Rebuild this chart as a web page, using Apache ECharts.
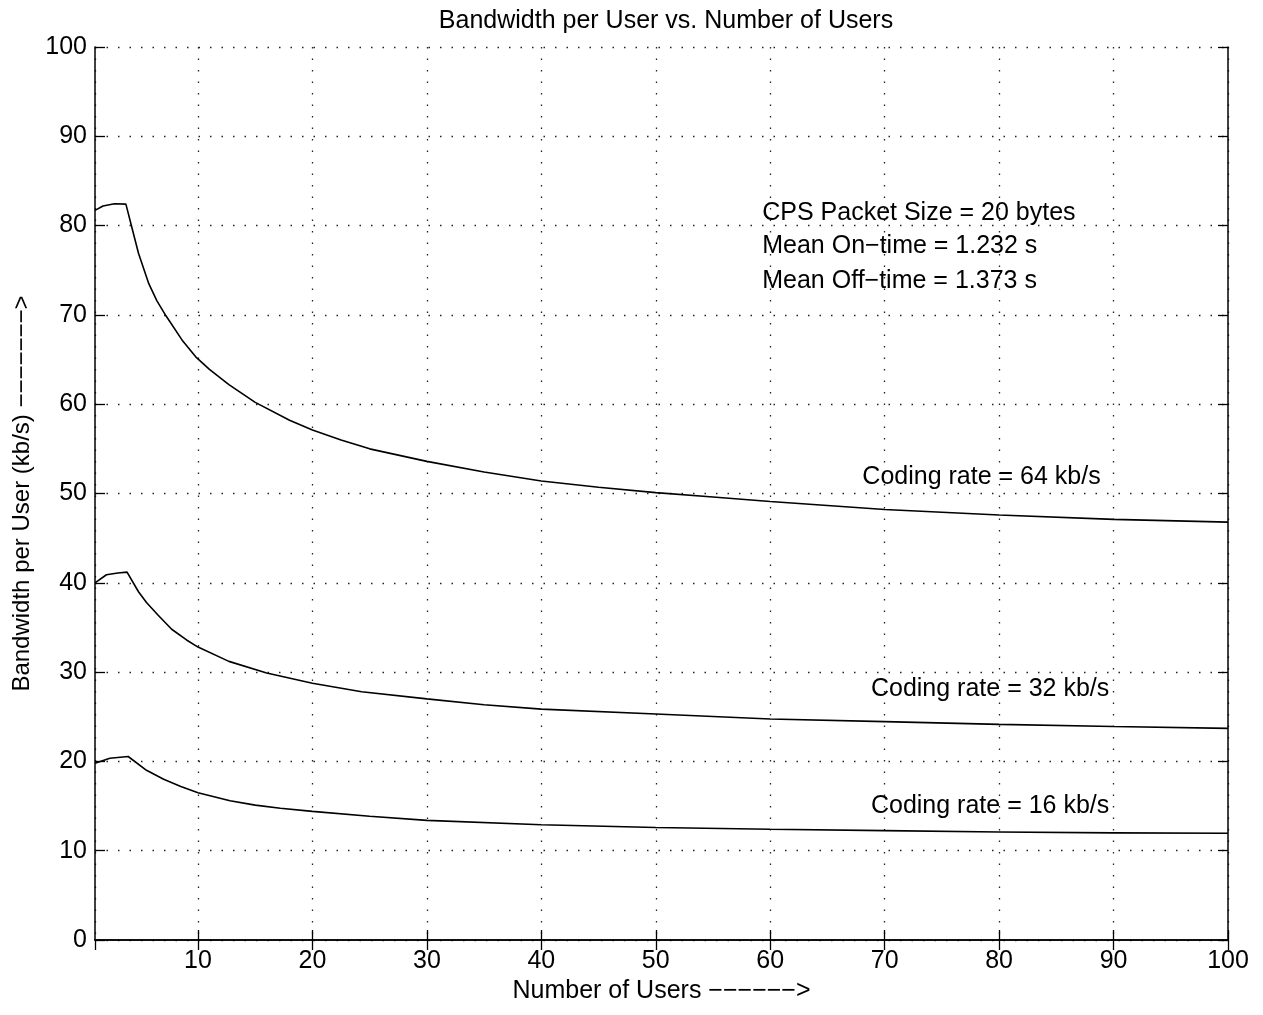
<!DOCTYPE html>
<html>
<head>
<meta charset="utf-8">
<script src="https://cdn.jsdelivr.net/npm/echarts@6/dist/echarts.min.js"></script>
<style>
html,body{margin:0;padding:0;background:#fff;}
#chart{width:1263px;height:1015px;}
</style>
</head>
<body>
<div id="chart"></div>
<script>
// ---- data ----
const users64 = [1, 1.7, 2.7, 3.7, 4.2, 4.8, 5.7, 6.4, 7.2, 8.6, 9.8, 11, 12.7, 15, 18, 20, 22.5, 25, 30, 35, 40, 45, 50, 55, 60, 70, 80, 90, 100];
const bw64    = [81.7, 82.2, 82.45, 82.4, 79.9, 76.9, 73.5, 71.6, 69.9, 67.2, 65.3, 63.9, 62.2, 60.2, 58.2, 57.1, 56.0, 55.0, 53.6, 52.4, 51.4, 50.7, 50.1, 49.6, 49.1, 48.2, 47.6, 47.1, 46.8];

const users32 = [1, 2, 3, 3.8, 4.8, 5.5, 6.5, 7.7, 9, 10, 12.7, 16, 20, 24.3, 30, 35, 40, 50, 60, 70, 80, 90, 100];
const bw32    = [40.0, 40.9, 41.1, 41.2, 39.0, 37.8, 36.4, 34.8, 33.6, 32.8, 31.2, 29.9, 28.75, 27.8, 27.0, 26.35, 25.85, 25.3, 24.75, 24.45, 24.15, 23.9, 23.7];

const users16 = [1, 2.3, 3.9, 5.5, 7, 8.5, 10, 12.8, 15, 17.2, 20, 25, 30, 40, 50, 60, 70, 80, 90, 100];
const bw16    = [19.8, 20.35, 20.55, 19.0, 18.0, 17.2, 16.5, 15.6, 15.1, 14.75, 14.4, 13.85, 13.4, 12.9, 12.6, 12.4, 12.25, 12.1, 12.0, 11.95];

const noteTexts = ['CPS Packet Size = 20 bytes', 'Mean On\u2212time = 1.232 s', 'Mean Off\u2212time = 1.373 s',
                   'Coding rate = 64 kb/s', 'Coding rate = 32 kb/s', 'Coding rate = 16 kb/s'];
const noteX = [59.3, 59.3, 59.3, 68.05, 68.8, 68.8];
const noteY = [81.4, 77.7, 73.8, 51.85, 28.1, 15.0];

const titleText = 'Bandwidth per User vs. Number of Users';
const xName = 'Number of Users \u2212\u2212\u2212\u2212\u2212\u2212>';
const yName = 'Bandwidth per User (kb/s) \u2212\u2212\u2212\u2212\u2212\u2212\u2212>';

// ---- chart ----
const FONT = '"Liberation Sans", Arial, Helvetica, sans-serif';
const zip = (xs, ys) => xs.map((x, i) => [x, ys[i]]);
const chart = echarts.init(document.getElementById('chart'), null, {renderer: 'canvas'});

const lineSeries = (name, xs, ys) => ({
  name, type: 'line', data: zip(xs, ys), showSymbol: false, symbol: 'none',
  lineStyle: {color: '#000', width: 1.6}, smooth: false,
  animation: false, z: 5
});

const gridSplit = {show: true, lineStyle: {color: '#222', width: 1.3, type: [1.5, 10]}};
const axLine = {show: true, lineStyle: {color: '#000', width: 1.5}};
const tickIn = {show: true, inside: true, length: 10, lineStyle: {color: '#000', width: 1.3}};

chart.setOption({
  animation: false,
  backgroundColor: '#fff',
  title: {
    text: titleText, left: 661, top: 4, textAlign: 'center',
    textStyle: {fontFamily: FONT, fontSize: 25, fontWeight: 'normal', color: '#000'}
  },
  grid: {left: 95, right: 35, top: 47, bottom: 75, containLabel: false},
  xAxis: [{
    type: 'value', min: 1, max: 100, splitNumber: 10, position: 'bottom',
    axisLine: axLine, axisTick: tickIn, splitLine: gridSplit,
    axisLabel: {showMinLabel: false, color: '#000', fontFamily: FONT, fontSize: 25, margin: 9},
    name: xName, nameLocation: 'middle', nameGap: 37,
    nameTextStyle: {fontFamily: FONT, fontSize: 25, color: '#000'}
  }, {
    type: 'value', min: 1, max: 100, splitNumber: 10, position: 'top',
    axisLine: axLine, axisTick: tickIn, splitLine: {show: false}, axisLabel: {show: false}
  }],
  yAxis: [{
    type: 'value', min: 0, max: 100, interval: 10, position: 'left',
    axisLine: axLine, axisTick: tickIn, splitLine: gridSplit,
    axisLabel: {color: '#000', fontFamily: FONT, fontSize: 25, margin: 8},
    name: yName, nameLocation: 'middle', nameGap: 58, nameRotate: 90,
    nameTextStyle: {fontFamily: FONT, fontSize: 24, color: '#000'}
  }, {
    type: 'value', min: 0, max: 100, interval: 10, position: 'right',
    axisLine: axLine, axisTick: tickIn, splitLine: {show: false}, axisLabel: {show: false}
  }],
  series: [
    lineSeries('64 kb/s', users64, bw64),
    lineSeries('32 kb/s', users32, bw32),
    lineSeries('16 kb/s', users16, bw16),
    {
      name: 'notes', type: 'scatter', symbolSize: 0, silent: true, z: 6,
      itemStyle: {opacity: 1, color: '#000'},
      data: noteTexts.map((t, i) => ({value: [noteX[i], noteY[i]], name: t})),
      label: {
        show: true, position: 'right', distance: 0, formatter: p => p.name, opacity: 1,
        fontFamily: FONT, fontSize: 25, color: '#000', align: 'left', verticalAlign: 'middle'
      }
    }
  ]
});
</script>
</body>
</html>
